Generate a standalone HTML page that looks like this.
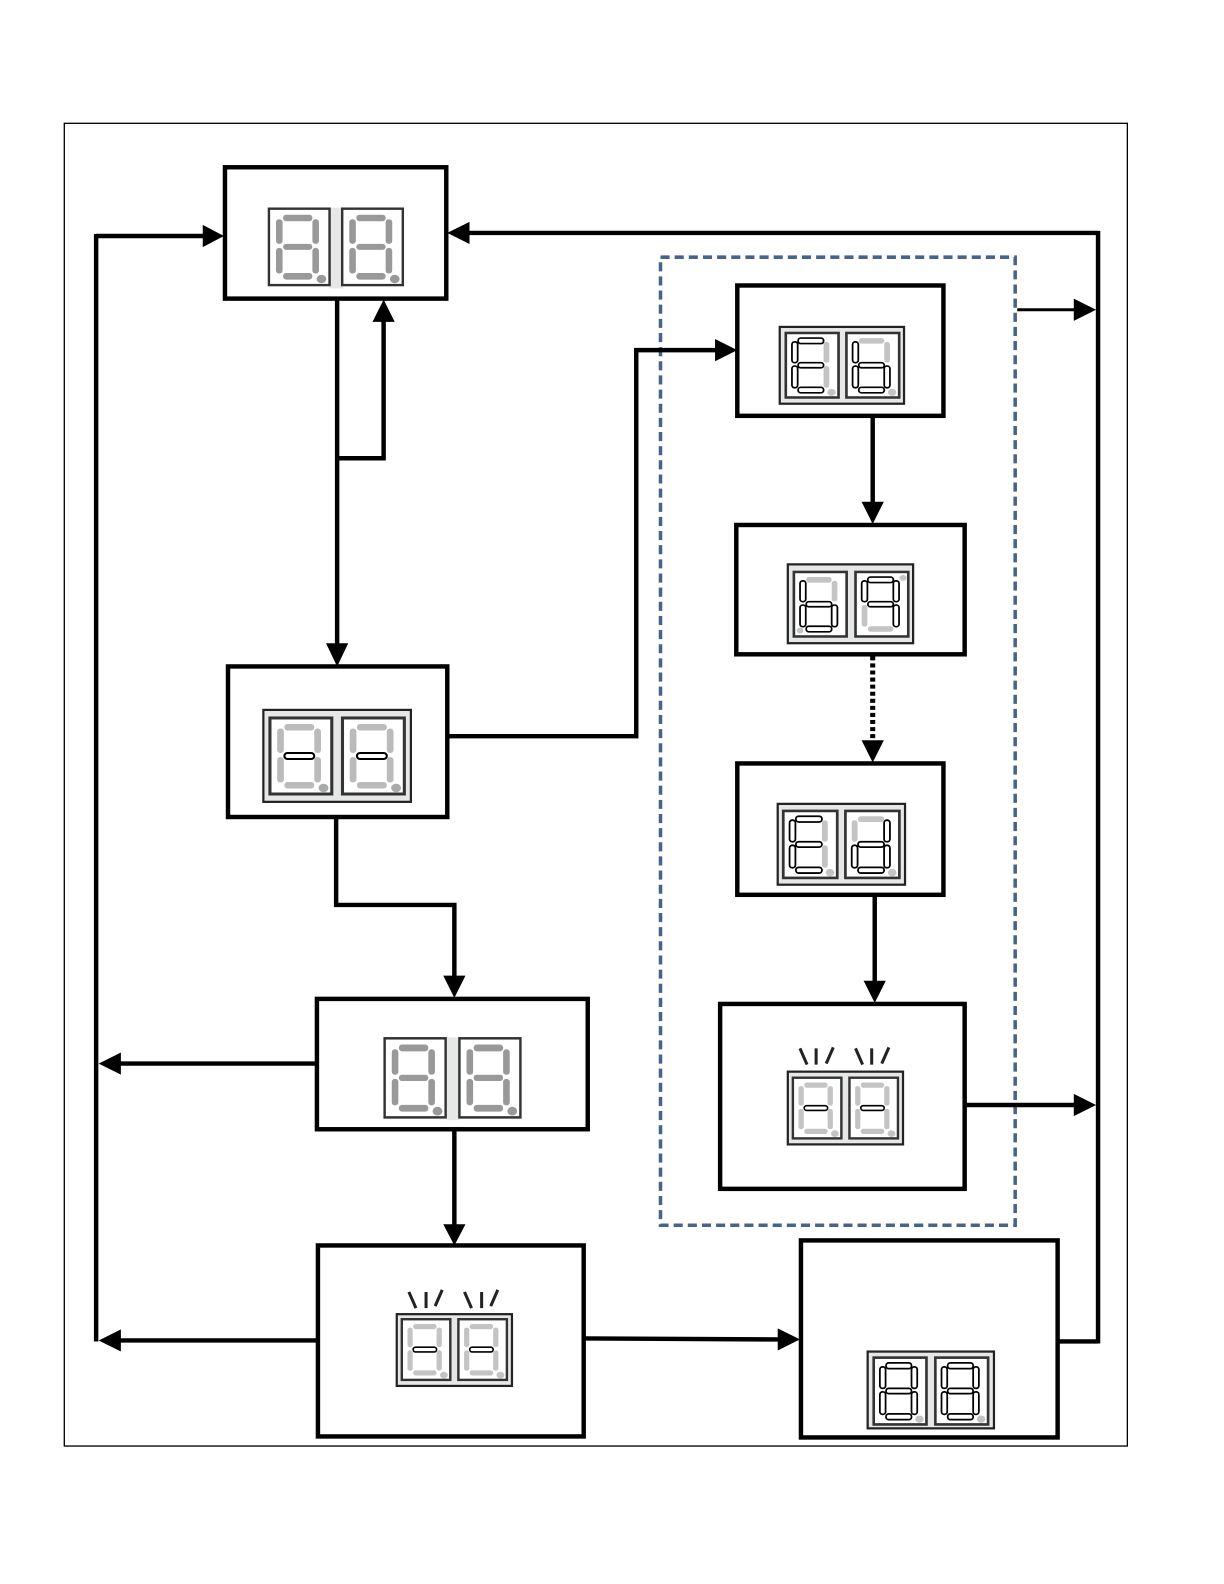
<!DOCTYPE html>
<html><head><meta charset="utf-8"><style>
html,body{margin:0;padding:0;background:#fff}
svg{display:block}
.on use,use.on{fill:#fff;stroke:#000;stroke-width:2}
.w{fill:none;stroke:#000;stroke-width:4.4}
.b{fill:#fff;stroke:#000;stroke-width:4.4}
.z{fill:#e6e7e7;stroke:#222;stroke-width:2.2}
.r{stroke:#222;stroke-width:3;fill:none}
</style></head><body>
<svg width="1224" height="1584" viewBox="0 0 1224 1584" xmlns="http://www.w3.org/2000/svg">
<defs>
<rect id="f" x="0" y="0" width="60" height="76" fill="#fff" stroke="#333" stroke-width="2.4"/>
<rect id="h" x="0" y="0" width="60" height="76" fill="#fff" stroke="#333" stroke-width="3"/>
<rect id="A" x="14" y="6" width="29" height="6.500" rx="3"/>
<rect id="F" x="7" y="10.500" width="6.500" height="24.500" rx="3"/>
<rect id="B" x="43" y="10.500" width="6.500" height="24.500" rx="3"/>
<rect id="G" x="14" y="35" width="29" height="6" rx="3"/>
<rect id="E" x="7" y="39" width="6.500" height="25.500" rx="3"/>
<rect id="C" x="43" y="39" width="6.500" height="25.500" rx="3"/>
<rect id="D" x="14" y="64" width="29" height="6.500" rx="3"/>
<g id="s"><use href="#A"/><use href="#F"/><use href="#B"/><use href="#G"/><use href="#E"/><use href="#C"/><use href="#D"/></g>
<ellipse id="p" cx="52" cy="70" rx="4.800" ry="4.200"/>
<ellipse id="q" cx="7" cy="69" rx="4" ry="3.400"/>
<ellipse id="t" cx="54" cy="7" rx="4" ry="3.400"/>
</defs>
<rect width="1224" height="1584" fill="#fff"/>
<g transform="matrix(1.0105 0 0 1.0105 -.37 -.49)">
<rect x="64" y="122.500" width="1052" height="1309" fill="none" stroke="#000" stroke-width="1.300"/>
<rect x="654" y="255" width="351" height="958" fill="none" stroke="#466489" stroke-width="3.500" stroke-dasharray="9 5"/>

<!-- boxes -->
<rect class="b" x="223" y="166" width="219" height="130"/>
<rect class="b" x="226" y="660" width="217" height="149"/>
<rect class="b" x="314" y="989" width="268" height="129"/>
<rect class="b" x="315" y="1233" width="263" height="189"/>
<rect class="b" x="730" y="283" width="204" height="129"/>
<rect class="b" x="729" y="520" width="226" height="128"/>
<rect class="b" x="730" y="756" width="204" height="130"/>
<rect class="b" x="713" y="994" width="242" height="183"/>
<rect class="b" x="793" y="1228" width="254" height="195"/>

<!-- connectors -->
<path class="w" d="M95.500 232V1328M95.500 234H202M1087 229V1330M1087 231H464M334 296V638M334 454H380V318M444 729H630V347H709M864 413V498M866 887V972M333 810V896H450V967M313 1053H119M450 1119V1213M314 1327H119M579 1325L771 1326M1048 1328H1087M956 1094H1065"/>
<path d="M1007 307H1065" fill="none" stroke="#000" stroke-width="3"/>
<path d="M864 650V733" fill="none" stroke="#000" stroke-width="5" stroke-dasharray="4 3"/>
<g fill="#000">
<polygon points="222,234 201,223 201,245"/>
<polygon points="443,231 465,220 465,242"/>
<polygon points="334,660 323,637 345,637"/>
<polygon points="380,297 369,319 391,319"/>
<polygon points="730,347 708,336 708,358"/>
<polygon points="864,519 853,497 875,497"/>
<polygon points="864,755 853,733 875,733"/>
<polygon points="866,993 855,971 877,971"/>
<polygon points="450,988 439,966 461,966"/>
<polygon points="98,1053 120,1042 120,1064"/>
<polygon points="450,1233 439,1212 461,1212"/>
<polygon points="98,1327 120,1316 120,1338"/>
<polygon points="792,1326 770,1315 770,1337"/>
<polygon points="1085,307 1063,296 1063,318"/>
<polygon points="1085,1094 1063,1083 1063,1105"/>
</g>

<!-- D1 top -->
<rect x="326" y="206" width="14" height="80" fill="#e6e7e7"/>
<g transform="translate(266.500 207) scale(1 .995)"><use href="#f"/><use href="#s" fill="#999"/><use href="#p" fill="#999"/></g>
<g transform="translate(339 207) scale(1 .995)"><use href="#f"/><use href="#s" fill="#999"/><use href="#p" fill="#999"/></g>

<!-- D6 middle -->
<rect class="z" x="261" y="703" width="146" height="91" stroke-width="3"/>
<g transform="translate(267.500 711) scale(1.02 .99)"><use href="#h"/><use href="#s" fill="#bbb"/><use href="#p" fill="#aaa"/><g class="on"><use href="#G"/></g></g>
<g transform="translate(339.300 711) scale(1.02 .99)"><use href="#h"/><use href="#s" fill="#bbb"/><use href="#p" fill="#aaa"/><g class="on"><use href="#G"/></g></g>

<!-- D2 -->
<rect class="z" x="772" y="324" width="123" height="76"/>
<g transform="translate(778 330) scale(.87 .84)"><use href="#h"/><use href="#s" fill="#c4c4c4"/><use href="#p" fill="#c4c4c4"/><g class="on"><use href="#A"/><use href="#F"/><use href="#G"/><use href="#E"/><use href="#D"/></g></g>
<g transform="translate(838 330) scale(.87 .84)"><use href="#h"/><use href="#s" fill="#c4c4c4"/><use href="#p" fill="#c4c4c4"/><g class="on"><use href="#F"/><use href="#G"/><use href="#E"/><use href="#C"/><use href="#D"/></g></g>

<!-- D3 -->
<rect class="z" x="780" y="559" width="124" height="78"/>
<g transform="translate(786 566.500) scale(.87 .84)"><use href="#h"/><use href="#s" fill="#c4c4c4"/><use href="#q" fill="#c4c4c4"/><g class="on"><use href="#F"/><use href="#G"/><use href="#E"/><use href="#C"/><use href="#D"/></g></g>
<g transform="translate(847 566.500) scale(.87 .84)"><use href="#h"/><use href="#s" fill="#c4c4c4"/><use href="#t" fill="#c4c4c4"/><g class="on"><use href="#A"/><use href="#F"/><use href="#B"/><use href="#G"/><use href="#C"/></g></g>

<!-- D4 -->
<rect class="z" x="770" y="796" width="126" height="80"/>
<g transform="translate(775.500 803) scale(.89 .872)"><use href="#h"/><use href="#s" fill="#c4c4c4"/><use href="#p" fill="#c4c4c4"/><g class="on"><use href="#A"/><use href="#F"/><use href="#G"/><use href="#E"/><use href="#D"/></g></g>
<g transform="translate(837 803) scale(.89 .872)"><use href="#h"/><use href="#s" fill="#c4c4c4"/><use href="#p" fill="#c4c4c4"/><g class="on"><use href="#B"/><use href="#G"/><use href="#E"/><use href="#C"/><use href="#D"/></g></g>

<!-- D5 -->
<rect class="z" x="780" y="1061" width="114" height="72"/>
<g transform="translate(785 1067) scale(.8 .79)"><use href="#h"/><use href="#s" fill="#c4c4c4"/><use href="#p" fill="#c4c4c4"/><g class="on"><use href="#G"/></g></g>
<g transform="translate(841 1067) scale(.8 .79)"><use href="#h"/><use href="#s" fill="#c4c4c4"/><use href="#p" fill="#c4c4c4"/><g class="on"><use href="#G"/></g></g>
<path class="r" d="M792 1038L799 1054M808 1038V1054M825 1037L818 1053M847 1038L854 1054M863 1038V1054M880 1037L873 1053"/>

<!-- D7 -->
<rect x="442" y="1027" width="13" height="82" fill="#e6e7e7"/>
<g transform="translate(381 1028) scale(1.006 1.03)"><use href="#f"/><use href="#s" fill="#999"/><use href="#p" fill="#999"/></g>
<g transform="translate(455 1028) scale(1.006 1.03)"><use href="#f"/><use href="#s" fill="#999"/><use href="#p" fill="#999"/></g>

<!-- D8 -->
<rect class="z" x="393" y="1301" width="114" height="71"/>
<g transform="translate(398 1306) scale(.8 .79)"><use href="#h"/><use href="#s" fill="#c4c4c4"/><use href="#p" fill="#c4c4c4"/><g class="on"><use href="#G"/></g></g>
<g transform="translate(454 1306) scale(.8 .79)"><use href="#h"/><use href="#s" fill="#c4c4c4"/><use href="#p" fill="#c4c4c4"/><g class="on"><use href="#G"/></g></g>
<path class="r" d="M405 1279L412 1295M422 1279V1295M438 1277L431 1293M460 1279L467 1295M477 1279V1295M493 1277L486 1293"/>

<!-- D9 -->
<rect class="z" x="859" y="1338" width="125" height="76"/>
<g transform="translate(865 1344) scale(.87 .87)"><use href="#h"/><use class="on" href="#s"/><use href="#p" fill="#c4c4c4"/></g>
<g transform="translate(926 1344) scale(.87 .87)"><use href="#h"/><use class="on" href="#s"/><use href="#p" fill="#c4c4c4"/></g>
</g>
</svg>
</body></html>
